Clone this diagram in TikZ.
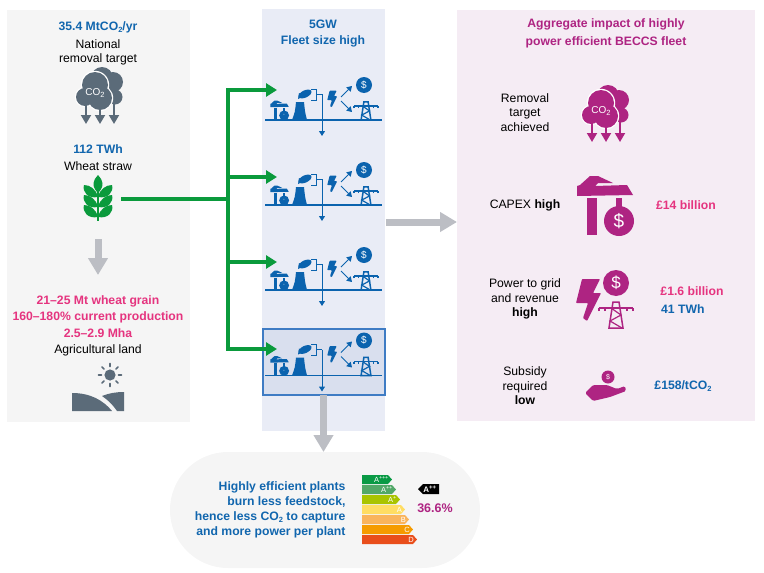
\documentclass[tikz,border=0pt]{standalone}
\usepackage{fontspec}
\setmainfont{Liberation Sans}
\usetikzlibrary{arrows.meta}
\definecolor{bluetxt}{HTML}{1166AE}
\definecolor{pinktxt}{HTML}{E5347F}
\definecolor{purpletxt}{HTML}{AE2482}
\definecolor{icongrey}{HTML}{5B6B79}
\definecolor{fleetblue}{HTML}{0B63AE}
\definecolor{arrowgreen}{HTML}{0A9A3C}
\definecolor{arrowgrey}{HTML}{BCBEC4}
\definecolor{panelgrey}{HTML}{F5F5F5}
\definecolor{panelblue}{HTML}{E9ECF6}
\definecolor{panelpink}{HTML}{F5ECF4}
\definecolor{boxblue}{HTML}{D9DFEE}
\definecolor{boxline}{HTML}{3F7CC4}
\newcommand{\subtwo}{\raisebox{-.35ex}{\fontsize{7.5}{8}\selectfont 2}}
\tikzset{
	pics/dollaricon/.style n args={3}{code={
		\fill[#1] (0,0) circle (#2);
		\node[text=white,font=\fontsize{#3}{#3}\selectfont] (-sign) at (0,0) {\$};
	}},
	pics/cloudicon/.style={code={
		\fill[#1] (2,-12) circle (11) (13,-8) circle (10) (15,7) circle (7.5) (9,3) circle (8);
		\draw[#1,line width=1.8,-{Triangle[length=9,width=10]}] (14,5) -- (14,34);
		\fill[white] (-5,-5) circle (14.2) (-15,7) circle (10.2) (0,8) circle (13.2);
		\fill[#1] (-5,-5) circle (13) (-15,7) circle (9) (0,8) circle (12);
		\draw[#1,line width=1.8,-{Triangle[length=9,width=10]}] (-14,12) -- (-14,34);
		\draw[#1,line width=1.8,-{Triangle[length=9,width=10]}] (0,12) -- (0,34);
		\node[text=white,font=\fontsize{10}{10}\selectfont] (-gas) at (-5,3) {CO\subtwo};
	}},
	pics/craneicon/.style 2 args={code={
		\fill[#1] (-28,-39) -- (-28,-49) -- (-25,-50) -- (-15,-59) -- (-7,-59) -- (8,-52) -- (-7,-52) -- (-10,-49) -- (22,-50) -- (28,-40) -- cycle;
		\fill[#1] (-18,-37) rectangle (-8,0);
		\fill[#1] (11,-37) rectangle (17,-25);
		\pic[transform shape] at (14,-14) {dollaricon={#1}{15}{#2}};
	}},
	pics/bolticon/.style={code={
		\fill[#1,rounded corners=.8] (-6,-21) -- (12,-21) -- (5,-7) -- (13,-7) -- (-1,21) -- (-5,18) -- (0,3) -- (-12,3) -- cycle;
	}},
	pics/towericon/.style={code={
		\draw[#1,line width=1.5] (-7,0) -- (-3,-26) -- (3,-26) -- (7,0) -- cycle;
		\draw[#1,line width=1.2] (-5,-20) -- (5,-13) -- (-6,-7) -- (6,0);
		\draw[#1,line width=1.5] (-17,-20) -- (17,-20);
		\draw[#1,line width=1.5] (-17,-17) -- (-17,-20) (17,-17) -- (17,-20) (-11,-17) -- (-11,-20) (11,-17) -- (11,-20);
	}},
	pics/fleetunit/.style={code={
		\draw[fleetblue,line width=1.8] (3,0) -- (120,0);
		\pic[scale=.33] at (17.5,0) {craneicon={fleetblue}{5}};
		\fill[fleetblue] (30,0) .. controls (33,-8) .. (34,-18) -- (42,-18) .. controls (43,-8) .. (45,0) -- cycle;
		\fill[fleetblue,rotate around={25:(43,-26)}] (43,-26) ellipse (7 and 3.6);
		\fill[fleetblue] (36,-21) -- (37,-27) -- (42,-24) -- cycle;
		\coordinate (-split) at (54,-26);
		\coordinate (-bend) at (60,-26);
		\coordinate (-out) at (60,16);
		\draw[fleetblue,line width=1] (49,-31) -- (54,-31) -- (54,-20) -- (49,-20);
		\draw[fleetblue,line width=1] (-split) -- (-bend);
		\draw[fleetblue,line width=1,-{Triangle[length=5,width=6]}] (-bend) -- (-out);
		\pic[scale=.4] at (70,-21) {bolticon=fleetblue};
		\coordinate (-forkup) at (79,-23);
		\coordinate (-forkdown) at (79,-19);
		\coordinate (-money) at (90,-34);
		\coordinate (-grid) at (90,-8);
		\draw[fleetblue,line width=1,-{Triangle[length=5,width=6]}] (-forkup) -- (-money);
		\draw[fleetblue,line width=1,-{Triangle[length=5,width=6]}] (-forkdown) -- (-grid);
		\pic at (102,-35) {dollaricon={fleetblue}{8}{10}};
		\pic[scale=.7] at (104,0) {towericon=fleetblue};
	}},
}
\begin{document}
\begin{tikzpicture}[x=1pt,y=-1pt]
	\tikzstyle{BlueT}=[text=bluetxt,font=\fontsize{12.2}{14.5}\selectfont\bfseries,align=center]
	\tikzstyle{PinkT}=[text=pinktxt,font=\fontsize{12.2}{16.5}\selectfont\bfseries,align=center]
	\tikzstyle{PurpleT}=[text=purpletxt,font=\fontsize{12.2}{18}\selectfont\bfseries,align=center]
	\tikzstyle{BlackT}=[text=black,font=\fontsize{12.2}{14.5}\selectfont,align=center]
	\tikzstyle{GreenL}=[draw=arrowgreen,line width=3.5]
	\tikzstyle{GreenA}=[GreenL,-{Triangle[length=11,width=13]}]
	\tikzstyle{GreyA}=[draw=arrowgrey,line width=7,-{Triangle[length=17,width=19]}]
	\useasboundingbox (0,0) rectangle (764,573);

	% panels
	\fill[panelgrey] (7,10) rectangle (190,422);
	\fill[panelblue] (262,9) rectangle (385,431);
	\fill[panelpink] (457,10) rectangle (755,421);
	\fill[panelgrey,rounded corners=58] (170,452) rectangle (480,568);
	\filldraw[fill=boxblue,draw=boxline,line width=1.2] (263,329) rectangle (385,395);

	% left column
	\node[BlueT] (target) at (98,27) {35.4 MtCO\subtwo/yr};
	\node[BlackT] (removal) at (98,52.5) {National\\removal target};
	\pic at (100,90) {cloudicon=icongrey};
	\node[BlueT] (twh) at (98,149) {112 TWh};
	\node[BlackT] (straw) at (98,166) {Wheat straw};
	\begin{scope}[shift={(98,0)}]
	\fill[arrowgreen] (0,175) .. controls (5,180) and (7,186) .. (0,193) .. controls (-7,186) and (-5,180) .. (0,175);
	\draw[arrowgreen,line width=1.6] (0,190) -- (0,221);
	\foreach \ly in {195,205,215}{
		\fill[arrowgreen] (0,\ly+2) .. controls (-2,\ly-6) and (-8,\ly-10) .. (-14,\ly-10) .. controls (-16,\ly-3) and (-10,\ly+4) .. (0,\ly+2);
		\fill[arrowgreen] (0,\ly+2) .. controls (2,\ly-6) and (8,\ly-10) .. (14,\ly-10) .. controls (16,\ly-3) and (10,\ly+4) .. (0,\ly+2);
	}
	\end{scope}
	\coordinate (strawdown) at (98,239);
	\coordinate (grainup) at (98,275);
	\path (strawdown) edge[GreyA] (grainup);
	\node[PinkT] (grain) at (98,316.5) {21--25 Mt wheat grain\\160--180\% current production\\2.5--2.9 Mha};
	\node[BlackT] (land) at (98,350) {Agricultural land};
	\fill[icongrey] (110,375) circle (5.6);
	\foreach \ang in {0,45,...,315}{
		\draw[icongrey,line width=1.6,line cap=round] (110,375) ++(\ang:8.5) -- ++(\ang:3);
	}
	\fill[icongrey] (72,393) .. controls (90,393) and (103,400) .. (112,411) -- (72,411) -- cycle;
	\fill[icongrey] (102,396) .. controls (109,393) and (117,392) .. (124,392) -- (124,411) -- (117,411) .. controls (113,405) and (108,400) .. (102,396) -- cycle;

	% fleet column
	\node[BlueT] (fleet) at (323,33.5) {5GW\\[1.5pt]Fleet size high};
	\pic (unitA) at (262,120) {fleetunit};
	\pic (unitB) at (262,205) {fleetunit};
	\pic (unitC) at (262,290) {fleetunit};
	\pic (unitD) at (262,375.5) {fleetunit};

	\coordinate (trunk) at (123,199);
	\coordinate (joint) at (228,199);
	\coordinate (jointA) at (228,90);
	\coordinate (jointB) at (228,177);
	\coordinate (jointC) at (228,262);
	\coordinate (jointD) at (228,349);
	\coordinate (tipA) at (277,90);
	\coordinate (tipB) at (277,177);
	\coordinate (tipC) at (277,262);
	\coordinate (tipD) at (277,349);
	\path[line cap=rect]
	(trunk) edge[GreenL] (joint)
	(jointA) edge[GreenL] (jointD)
	;
	\path
	(jointA) edge[GreenA] (tipA)
	(jointB) edge[GreenA] (tipB)
	(jointC) edge[GreenA] (tipC)
	(jointD) edge[GreenA] (tipD)
	;

	\coordinate (fleetright) at (386,222);
	\coordinate (impactleft) at (457,222);
	\coordinate (fleetbottom) at (323.5,395);
	\coordinate (pilltop) at (323.5,452);
	\path
	(fleetright) edge[GreyA] (impactleft)
	(fleetbottom) edge[GreyA] (pilltop)
	;

	% impact column
	\node[PurpleT] (impact) at (606,33) {Aggregate impact of highly\\power efficient BECCS fleet};
	\node[BlackT] (achieved) at (525,112.5) {Removal\\target\\achieved};
	\pic at (606,108) {cloudicon=purpletxt};
	\node[BlackT] (capex) at (525,205) {CAPEX \textbf{high}};
	\pic at (605,235) {craneicon={purpletxt}{19}};
	\node[PinkT] (capexval) at (686,205) {£14 billion};
	\node[BlackT] (power) at (525,299) {Power to grid\\and revenue\\\textbf{high}};
	\pic at (588,300) {bolticon=purpletxt};
	\pic at (616,283) {dollaricon={purpletxt}{13}{17}};
	\pic at (616,328) {towericon=purpletxt};
	\node[PinkT] (powerval) at (692,291) {£1.6 billion};
	\node[BlueT,anchor=west,inner sep=0] (powertwh) at (661,309) {41 TWh};
	\node[BlackT] (subsidy) at (525,386) {Subsidy\\required\\\textbf{low}};
	\pic at (608,377) {dollaricon={purpletxt}{6.5}{7}};
	\fill[purpletxt,rounded corners=1.5] (585,393) -- (593,385) -- (607,385) -- (617,389) -- (625,386) -- (626,391) -- (610,397) -- (593,401) -- cycle;
	\node[BlueT] (subsidyval) at (683,386) {£158/tCO\subtwo};

	% efficiency note
	\node[BlueT,align=right,anchor=east,font=\fontsize{12.2}{15}\selectfont\bfseries] (note) at (349,509.5) {Highly efficient plants\\burn less feedstock,\\hence less CO\subtwo{} to capture\\and more power per plant};
	\foreach \i/\col/\tip/\lab in {0/0A9A45/392/A\textsuperscript{+++},1/52A868/396/A\textsuperscript{++},2/A9C400/400/A\textsuperscript{+},3/FFDD63/405/A,4/F9B45C/409/B,5/F59B00/413/C,6/E94E1B/417/D}{
		\definecolor{barcol}{HTML}{\col}
		\fill[barcol] (362,475+10*\i) -- (\tip-4,475+10*\i) -- (\tip,479.5+10*\i) -- (\tip-4,484+10*\i) -- (362,484+10*\i) -- cycle;
		\node[text=white,font=\fontsize{7.5}{8}\selectfont,anchor=east,inner sep=0] (bar\i) at (\tip-3,479.5+10*\i) {\lab};
	}
	\fill[black] (418,489) -- (423,484) -- (439,484) -- (439,494) -- (423,494) -- cycle;
	\node[text=white,font=\fontsize{8}{8}\selectfont\bfseries,inner sep=0] (grade) at (430,489) {A\textsuperscript{++}};
	\node[text=purpletxt,font=\fontsize{12.5}{14}\selectfont\bfseries] (share) at (435,508) {36.6\%};
\end{tikzpicture}
\end{document}
